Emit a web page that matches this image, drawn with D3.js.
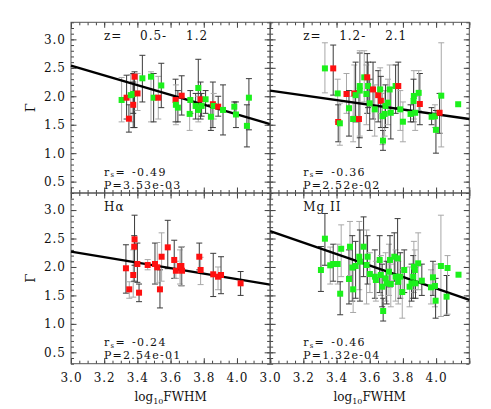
<!DOCTYPE html>
<html>
<head>
<meta charset="utf-8">
<script src="https://cdn.jsdelivr.net/npm/d3@7"></script>
<style>
  body { margin: 0; background: #fff; }
  text { font-family: "DejaVu Serif", "Liberation Serif", serif; fill: #111; }
</style>
</head>
<body>
<div id="chart"></div>
<script>
// rows: [log10 FWHM, Gamma, err low, err high, sample (R/G), bar type]
const zLowRows = [
  [3.305, 1.935, 1.55, 2.33, 'G', 1], [3.335, 1.975, 1.60, 2.37, 'R', 0],
  [3.349, 1.606, 1.37, 1.85, 'R', 0], [3.360, 2.020, 1.55, 2.38, 'G', 1],
  [3.375, 2.040, 1.70, 2.40, 'G', 0], [3.375, 1.850, 1.45, 2.25, 'R', 0],
  [3.383, 2.344, 1.45, 2.43, 'R', 0], [3.401, 2.050, 1.75, 2.40, 'R', 1],
  [3.430, 2.316, 1.90, 2.72, 'G', 0], [3.482, 2.344, 1.55, 2.43, 'G', 1],
  [3.498, 1.975, 1.55, 2.40, 'G', 0], [3.526, 1.975, 1.60, 2.35, 'R', 1],
  [3.544, 2.190, 1.80, 2.58, 'G', 0], [3.630, 1.935, 1.55, 2.30, 'R', 0],
  [3.632, 1.850, 1.50, 2.20, 'G', 1], [3.644, 1.800, 1.55, 2.10, 'G', 0],
  [3.667, 2.010, 1.67, 2.36, 'R', 0], [3.719, 1.935, 1.70, 2.10, 'G', 0],
  [3.715, 1.690, 1.40, 1.95, 'G', 1], [3.751, 1.830, 1.60, 2.05, 'G', 0],
  [3.767, 2.145, 1.75, 2.65, 'G', 0], [3.767, 1.760, 1.55, 2.00, 'G', 1],
  [3.781, 1.947, 1.60, 2.25, 'R', 0], [3.787, 1.830, 1.65, 2.05, 'G', 0],
  [3.811, 1.947, 1.70, 2.10, 'G', 0], [3.843, 1.640, 1.40, 1.85, 'G', 0],
  [3.855, 1.860, 1.45, 2.25, 'R', 0], [3.860, 1.830, 1.60, 2.05, 'G', 1],
  [3.887, 1.817, 1.65, 2.00, 'R', 0], [3.916, 1.760, 1.32, 2.20, 'G', 0],
  [3.984, 1.817, 1.70, 1.90, 'G', 0], [3.994, 1.680, 1.45, 1.90, 'G', 0],
  [4.060, 1.480, 1.11, 1.85, 'G', 0], [4.072, 1.975, 1.41, 2.31, 'G', 0]
];

const zHighRows = [
  [3.330, 2.490, 2.06, 2.94, 'G', 1], [3.380, 2.490, 2.02, 2.90, 'R', 0],
  [3.407, 2.050, 1.55, 2.30, 'G', 1], [3.410, 1.548, 1.20, 1.85, 'R', 0],
  [3.420, 1.525, 1.14, 1.88, 'G', 1], [3.460, 2.040, 1.70, 2.40, 'R', 1],
  [3.475, 1.790, 1.30, 2.10, 'G', 0], [3.500, 1.600, 1.20, 2.00, 'G', 1],
  [3.507, 2.050, 1.65, 2.55, 'R', 1], [3.515, 2.020, 1.55, 2.60, 'G', 0],
  [3.535, 1.600, 1.10, 2.10, 'R', 0], [3.540, 2.180, 1.27, 2.76, 'G', 0],
  [3.540, 2.100, 1.30, 2.80, 'G', 1], [3.567, 2.333, 1.90, 2.80, 'G', 1],
  [3.585, 2.333, 1.70, 2.75, 'R', 0], [3.580, 2.040, 1.50, 2.55, 'G', 1],
  [3.590, 2.180, 1.80, 2.60, 'G', 0], [3.600, 1.876, 1.40, 2.30, 'G', 0],
  [3.620, 2.120, 1.60, 2.60, 'R', 0], [3.630, 1.770, 1.30, 2.20, 'G', 1],
  [3.651, 2.020, 1.55, 2.45, 'R', 0], [3.663, 2.120, 1.70, 2.50, 'G', 1],
  [3.667, 1.920, 1.45, 2.35, 'R', 0], [3.677, 1.650, 1.15, 2.05, 'G', 1],
  [3.680, 1.220, 1.05, 1.40, 'G', 0], [3.690, 1.690, 1.30, 2.10, 'G', 1],
  [3.695, 1.830, 1.45, 2.20, 'G', 0], [3.710, 1.887, 1.50, 2.30, 'G', 1],
  [3.727, 1.710, 1.25, 2.15, 'G', 0], [3.720, 2.120, 1.70, 2.55, 'G', 1],
  [3.756, 2.180, 1.70, 2.55, 'G', 0], [3.772, 2.180, 1.80, 2.60, 'R', 0],
  [3.784, 1.770, 1.40, 2.10, 'G', 1], [3.800, 1.553, 1.20, 1.90, 'G', 1],
  [3.846, 1.690, 1.55, 1.85, 'G', 0], [3.866, 2.005, 1.60, 2.45, 'G', 1],
  [3.864, 1.917, 1.55, 2.30, 'G', 0], [3.874, 1.710, 1.40, 2.00, 'G', 1],
  [3.902, 1.864, 1.50, 2.40, 'R', 0], [3.895, 2.060, 1.75, 2.45, 'G', 1],
  [3.973, 1.640, 1.50, 1.80, 'G', 0], [3.993, 1.650, 1.45, 1.85, 'G', 1],
  [3.999, 1.410, 1.00, 1.75, 'G', 0], [4.021, 1.710, 1.35, 2.05, 'R', 0],
  [4.031, 2.010, 1.11, 2.94, 'G', 1], [4.133, 1.860, null, null, 'G', 0]
];

const halphaRows = [
  [3.331, 1.977, 1.54, 2.39, 'R', 0], [3.351, 1.607, 1.45, 1.74, 'R', 1],
  [3.375, 1.859, 1.47, 2.30, 'R', 1], [3.381, 2.356, 1.75, 2.55, 'R', 0],
  [3.383, 2.486, 2.03, 2.91, 'R', 0], [3.400, 2.052, 1.73, 2.42, 'R', 0],
  [3.410, 1.548, 1.39, 1.70, 'R', 0], [3.462, 2.035, 1.95, 2.13, 'R', 1],
  [3.506, 2.052, 1.70, 2.42, 'R', 0], [3.520, 1.994, 1.72, 2.43, 'R', 1],
  [3.536, 1.607, 1.28, 1.95, 'R', 0], [3.546, 2.180, 1.75, 2.60, 'R', 1],
  [3.583, 2.345, 1.97, 2.82, 'R', 0], [3.622, 2.123, 1.80, 2.47, 'R', 0],
  [3.632, 1.934, 1.80, 2.10, 'R', 1], [3.657, 2.017, 1.70, 2.30, 'R', 1],
  [3.665, 2.017, 1.67, 2.35, 'R', 0], [3.669, 1.934, 1.67, 2.36, 'R', 1],
  [3.773, 2.180, 1.95, 2.42, 'R', 0], [3.781, 1.947, 1.69, 2.17, 'R', 1],
  [3.857, 1.871, 1.48, 2.24, 'R', 0], [3.886, 1.829, 1.60, 2.00, 'R', 1],
  [3.904, 1.859, 1.53, 2.18, 'R', 0], [4.022, 1.713, 1.50, 1.92, 'R', 0]
];

const mg2Rows = [
  [3.306, 1.947, 1.57, 2.36, 'G', 0], [3.330, 2.497, 2.03, 2.94, 'G', 0],
  [3.362, 2.029, 1.70, 2.35, 'G', 1], [3.380, 2.052, 1.75, 2.40, 'G', 0],
  [3.407, 2.052, 1.70, 2.40, 'G', 1], [3.422, 1.530, 1.16, 1.74, 'G', 0],
  [3.428, 2.320, 1.83, 2.74, 'G', 1], [3.475, 1.789, 1.35, 2.30, 'G', 0],
  [3.481, 2.356, 1.85, 2.80, 'G', 1], [3.495, 1.990, 1.40, 2.55, 'G', 0],
  [3.500, 1.607, 1.20, 1.95, 'G', 1], [3.515, 2.017, 1.45, 2.45, 'G', 0],
  [3.537, 2.180, 1.60, 2.80, 'G', 1], [3.541, 2.093, 1.40, 2.65, 'G', 0],
  [3.563, 2.356, 1.83, 2.88, 'G', 0], [3.581, 2.035, 1.35, 2.65, 'G', 1],
  [3.587, 2.180, 1.70, 2.55, 'G', 0], [3.601, 1.876, 1.55, 2.25, 'G', 1],
  [3.631, 1.829, 1.45, 2.30, 'G', 0], [3.637, 1.771, 1.40, 2.10, 'G', 1],
  [3.660, 2.123, 1.55, 2.55, 'G', 0], [3.667, 1.859, 1.50, 2.20, 'G', 1],
  [3.675, 1.653, 1.30, 2.05, 'G', 0], [3.681, 1.226, 1.05, 1.45, 'G', 0],
  [3.696, 1.800, 1.40, 2.25, 'G', 1], [3.702, 1.713, 1.35, 2.10, 'G', 0],
  [3.716, 1.917, 1.50, 2.40, 'G', 1], [3.722, 2.123, 1.65, 2.55, 'G', 0],
  [3.727, 1.700, 1.30, 2.05, 'G', 1], [3.748, 2.180, 1.75, 2.60, 'G', 0],
  [3.756, 1.829, 1.40, 2.30, 'G', 1], [3.768, 2.152, 1.70, 2.85, 'G', 0],
  [3.772, 1.741, 1.35, 2.10, 'G', 1], [3.784, 1.829, 1.45, 2.25, 'G', 0],
  [3.796, 1.560, 1.10, 1.95, 'G', 1], [3.808, 1.947, 1.55, 2.30, 'G', 0],
  [3.840, 1.653, 1.30, 2.00, 'G', 1], [3.852, 1.713, 1.40, 2.05, 'G', 0],
  [3.866, 2.005, 1.55, 2.45, 'G', 1], [3.862, 1.829, 1.45, 2.20, 'G', 0],
  [3.872, 1.947, 1.60, 2.30, 'G', 1], [3.876, 1.713, 1.45, 2.00, 'G', 0],
  [3.892, 2.064, 1.60, 2.60, 'G', 1], [3.914, 1.759, 1.50, 2.05, 'G', 0],
  [3.969, 1.643, 1.35, 1.95, 'G', 1], [3.981, 1.818, 1.50, 2.10, 'G', 0],
  [3.993, 1.666, 1.30, 2.05, 'G', 1], [3.997, 1.407, 1.10, 1.80, 'G', 0],
  [4.029, 2.017, 1.13, 2.91, 'G', 1], [4.063, 1.478, 1.15, 1.85, 'G', 0],
  [4.069, 1.982, 1.17, 2.20, 'G', 1], [4.135, 1.864, null, null, 'G', 0]
];

// fitted line: Gamma at log FWHM = 3.0 and 4.2
const fitLines = [[2.54, 1.51], [2.10, 1.60], [2.27, 1.69], [2.63, 1.42]];
const panelTitles = [['z=', '0.5-', '1.2'], ['z=', '1.2-', '2.1'], ['Hα'], ['Mg II']];
const rsValues = ['-0.49', '-0.36', '-0.24', '-0.46'];
const pValues = ['3.53e-03', '2.52e-02', '2.54e-01', '1.32e-04'];
const xDomain = [3.0, 4.2];
const yDomain = [0.3, 3.3];
const xTickLabels = [3.0, 3.2, 3.4, 3.6, 3.8, 4.0];
const yTickLabels = [0.5, 1.0, 1.5, 2.0, 2.5, 3.0];

const width = 491, height = 409;
const plotL = 71, plotR = 469.3, plotT = 22.3, plotB = 363.7;
const pw = (plotR - plotL) / 2, ph = (plotB - plotT) / 2;
const sampleColor = { R: '#ff1010', G: '#1cf01c' };
const barColor = ['#3a3a3a', '#a8a8a8'];

const svg = d3.select('#chart').append('svg')
  .attr('width', width).attr('height', height);
svg.append('rect').attr('width', width).attr('height', height).attr('fill', '#fff');

const panels = [zLowRows, zHighRows, halphaRows, mg2Rows];

panels.forEach((rows, i) => {
  const col = i % 2, row = Math.floor(i / 2);
  const x0 = plotL + col * pw, y0 = plotT + row * ph;
  const x = d3.scaleLinear().domain(xDomain).range([x0, x0 + pw]);
  const y = d3.scaleLinear().domain(yDomain).range([y0 + ph, y0]);
  const g = svg.append('g');

  // ticks, inward on all four sides
  const minorX = d3.range(3.0, 4.2001, 0.05), majorX = d3.range(3.0, 4.2001, 0.2);
  const minorY = d3.range(0.3, 3.3001, 0.1), majorY = d3.range(0.5, 3.0001, 0.5);
  const addAxis = (axis, tr) => {
    const a = g.append('g').attr('transform', tr).call(axis);
    a.select('.domain').remove();
    a.selectAll('line').attr('stroke', '#444');
    return a;
  };
  [[d3.axisBottom, y0 + ph], [d3.axisTop, y0]].forEach(([fn, yy]) => {
    addAxis(fn(x).tickValues(minorX).tickSize(-3).tickFormat(''), `translate(0,${yy})`);
    addAxis(fn(x).tickValues(majorX).tickSize(-5.5).tickFormat(''), `translate(0,${yy})`);
  });
  [[d3.axisLeft, x0], [d3.axisRight, x0 + pw]].forEach(([fn, xx]) => {
    addAxis(fn(y).tickValues(minorY).tickSize(-3).tickFormat(''), `translate(${xx},0)`);
    addAxis(fn(y).tickValues(majorY).tickSize(-5.5).tickFormat(''), `translate(${xx},0)`);
  });

  if (col === 0) {
    const a = addAxis(d3.axisLeft(y).tickValues(yTickLabels).tickSize(0).tickPadding(5)
      .tickFormat(d3.format('.1f')), `translate(${x0},0)`);
    a.selectAll('text').style('font-size', '12px').style('letter-spacing', '1px')
      .style('font-family', '"DejaVu Serif", serif').attr('fill', '#111');
    svg.append('text')
      .attr('transform', `translate(${x0 - 36},${y0 + ph / 2}) rotate(-90)`)
      .attr('text-anchor', 'middle').style('font-size', '13px').text('Γ');
  }
  if (row === 1) {
    const a = addAxis(d3.axisBottom(x).tickValues(xTickLabels).tickSize(0).tickPadding(10)
      .tickFormat(d3.format('.1f')), `translate(0,${y0 + ph})`);
    a.selectAll('text').style('font-size', '12px').style('letter-spacing', '1px')
      .style('font-family', '"DejaVu Serif", serif').attr('fill', '#111');
    const t = svg.append('text')
      .attr('x', x0 + pw / 2).attr('y', y0 + ph + 37)
      .attr('text-anchor', 'middle').style('font-size', '12px');
    t.append('tspan').text('log');
    t.append('tspan').attr('dy', 3).style('font-size', '8px').text('10');
    t.append('tspan').attr('dy', -3).text('FWHM');
  }

  // frame
  g.append('rect').attr('x', x0).attr('y', y0).attr('width', pw).attr('height', ph)
    .attr('fill', 'none').attr('stroke', '#555').attr('stroke-width', 1);

  // error bars
  const bars = g.append('g').selectAll('g')
    .data(rows.filter(d => d[2] !== null)).join('g')
    .attr('stroke', d => barColor[d[5]]).attr('stroke-width', 1);
  bars.append('line')
    .attr('x1', d => x(d[0])).attr('x2', d => x(d[0]))
    .attr('y1', d => y(d[2])).attr('y2', d => y(d[3]));
  [2, 3].forEach(k => bars.append('line')
    .attr('x1', d => x(d[0]) - 3).attr('x2', d => x(d[0]) + 3)
    .attr('y1', d => y(d[k])).attr('y2', d => y(d[k])));

  // fit line
  const fit = fitLines[i];
  g.append('line')
    .attr('x1', x(xDomain[0])).attr('y1', y(fit[0]))
    .attr('x2', x(xDomain[1])).attr('y2', y(fit[1]))
    .attr('stroke', '#000').attr('stroke-width', 2.4);

  // points
  g.append('g').selectAll('rect').data(rows).join('rect')
    .attr('x', d => x(d[0]) - 3).attr('y', d => y(d[1]) - 3)
    .attr('width', 6).attr('height', 6)
    .attr('fill', d => sampleColor[d[4]]);

  // labels
  const tx = x0 + 33;
  const title = panelTitles[i];
  if (title.length === 3) {
    [[0, title[0]], [36, title[1]], [82, title[2]]].forEach(([dx, s]) =>
      g.append('text').attr('x', tx + dx).attr('y', y0 + 18)
        .style('font-size', '12px').style('letter-spacing', '1px').text(s));
  } else {
    g.append('text').attr('x', tx).attr('y', y0 + 18)
      .style('font-size', '12px').style('letter-spacing', '1px').text(title[0]);
  }
  const rs = g.append('text').attr('x', tx).attr('y', y0 + ph - 17.5)
    .style('font-size', '11px').style('letter-spacing', '1.3px');
  rs.append('tspan').text('r');
  rs.append('tspan').attr('dy', 1.5).style('font-size', '7px').text('s');
  rs.append('tspan').attr('dy', -1.5).text('= ');
  rs.append('tspan').attr('x', tx + 28).text(rsValues[i]);
  g.append('text').attr('x', tx).attr('y', y0 + ph - 4.5)
    .style('font-size', '11px').style('letter-spacing', '1.2px').text('P=' + pValues[i]);
});
</script>
</body>
</html>
